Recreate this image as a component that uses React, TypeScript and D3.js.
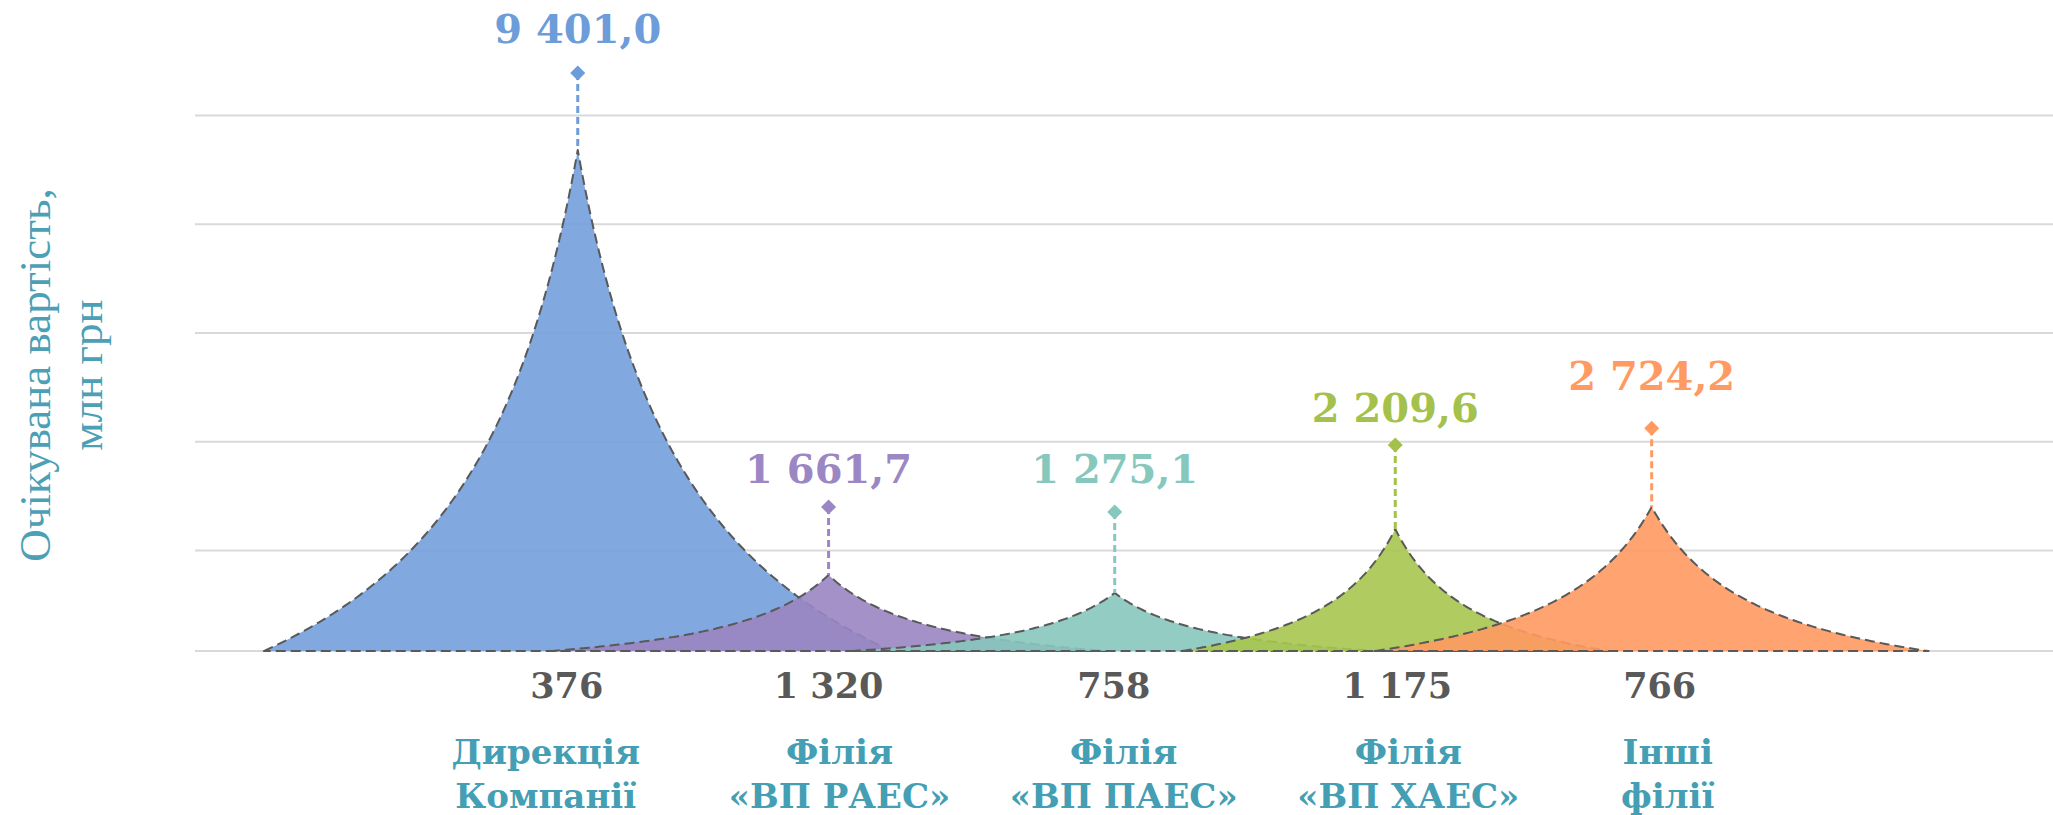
import React from "react";
import * as d3 from "d3";

// ---------- data ----------
const categoryLines: string[][] = [
  ["Дирекція", "Компанії"],
  ["Філія", "«ВП РАЕС»"],
  ["Філія", "«ВП ПАЕС»"],
  ["Філія", "«ВП ХАЕС»"],
  ["Інші", "філії"],
];
const counts = ["376", "1 320", "758", "1 175", "766"];
const labelValues = [9401.0, 1661.7, 1275.1, 2209.6, 2724.2];
// height of each spike, as drawn
const peakValues = [9365, 1550, 1220, 2395, 2800];
// height of the diamond marker that carries the value label
const markerValues = [10780, 2800, 2710, 3940, 4250];
// position of each spike on the horizontal (0..100) axis and its half-width
const centers = [20.6, 34.1, 49.5, 64.6, 78.4];
const halfWidths = [16.9, 15.0, 14.2, 11.5, 14.9];
const yTicks = [2000, 4000, 6000, 8000, 10000];
const axisCrossValue = 150;
const yTitle = ["Очікувана вартість,", "млн грн"];

// ---------- style ----------
const fills = ["#739FDB", "#9A85C2", "#87C6BD", "#A7C54E", "#FF9962"];
const labelColors = ["#6C9CDA", "#9C87C5", "#86C8BE", "#A4C24B", "#FF9A62"];
const labelOffsets = [30, 24, 29, 23, 38];
const countOffsets = [-11, 0, -1, 2, 8];
const catOffsets = [-32, 11, 9, 13, 16];
const spikeCurvature = 2.5;

const W = 2053;
const H = 815;
const serif = "'DejaVu Serif', Georgia, serif";

const fmt = d3.formatLocale({
  decimal: ",",
  thousands: " ",
  grouping: [3],
  currency: ["", ""],
}).format(",.1f");

// concave "spike" outline: steep at the tip, flattening towards the baseline
const spikeShape = d3.range(-1, 1.0001, 0.01).map((t) => {
  const a = Math.abs(t);
  return [t, (1 - a) / (1 + spikeCurvature * a)];
});

export default function App() {
  const x = d3.scaleLinear().domain([0, 100]).range([195, W]);
  const y = d3.scaleLinear().domain([0, 10000]).range([659.25, 115.5]);
  const base = y(axisCrossValue);

  const spikePath = (i: number) => {
    const line = d3
      .line<number[]>()
      .x((d) => x(centers[i] + d[0] * halfWidths[i]))
      .y((d) => y(axisCrossValue + d[1] * (peakValues[i] - axisCrossValue)));
    return (line(spikeShape) as string) + "Z";
  };

  return (
    <svg
      width={W}
      height={H}
      style={{ position: "absolute", left: 0, top: 0, background: "#fff" }}
    >
      {/* gridlines */}
      {yTicks.map((t) => (
        <line key={t} x1={x(0)} x2={W} y1={y(t)} y2={y(t)} stroke="#D9D9D9" strokeWidth={2} />
      ))}
      <line x1={x(0)} x2={W} y1={base} y2={base} stroke="#D9D9D9" strokeWidth={2} />

      {/* spikes */}
      {centers.map((_, i) => (
        <path
          key={i}
          d={spikePath(i)}
          fill={fills[i]}
          fillOpacity={0.9}
          stroke="#595959"
          strokeWidth={2}
          strokeDasharray="10 5"
          strokeLinejoin="round"
        />
      ))}

      {/* leader lines, markers, value labels */}
      {centers.map((c, i) => {
        const cx = x(c);
        const my = y(markerValues[i]);
        const py = y(peakValues[i]);
        const s = 7.5;
        return (
          <g key={i}>
            <line
              x1={cx}
              x2={cx}
              y1={my}
              y2={py}
              stroke={labelColors[i]}
              strokeWidth={3}
              strokeDasharray="7 4"
            />
            <path
              d={`M${cx},${my - s}L${cx + s},${my}L${cx},${my + s}L${cx - s},${my}Z`}
              fill={labelColors[i]}
            />
            <text
              x={cx}
              y={my - labelOffsets[i]}
              textAnchor="middle"
              fontFamily={serif}
              fontWeight="bold"
              fontSize={40}
              fill={labelColors[i]}
            >
              {fmt(labelValues[i])}
            </text>
          </g>
        );
      })}

      {/* counts */}
      {centers.map((c, i) => (
        <text
          key={i}
          x={x(c) + countOffsets[i]}
          y={698}
          textAnchor="middle"
          fontFamily={serif}
          fontWeight="bold"
          fontSize={35}
          fill="#595959"
        >
          {counts[i]}
        </text>
      ))}

      {/* category labels */}
      {centers.map((c, i) => (
        <text
          key={i}
          textAnchor="middle"
          fontFamily={serif}
          fontWeight="bold"
          fontSize={34}
          fill="#449EB4"
        >
          {categoryLines[i].map((ln, j) => (
            <tspan key={j} x={x(c) + catOffsets[i]} y={764 + j * 44}>
              {ln}
            </tspan>
          ))}
        </text>
      ))}

      {/* y axis title */}
      <g transform="translate(0,375) rotate(-90)">
        {yTitle.map((ln, j) => (
          <text
            key={j}
            x={0}
            y={50 + j * 52}
            textAnchor="middle"
            fontFamily="'Liberation Serif', serif"
            fontSize={45}
            fill="#4BA0B5"
          >
            {ln}
          </text>
        ))}
      </g>
    </svg>
  );
}
